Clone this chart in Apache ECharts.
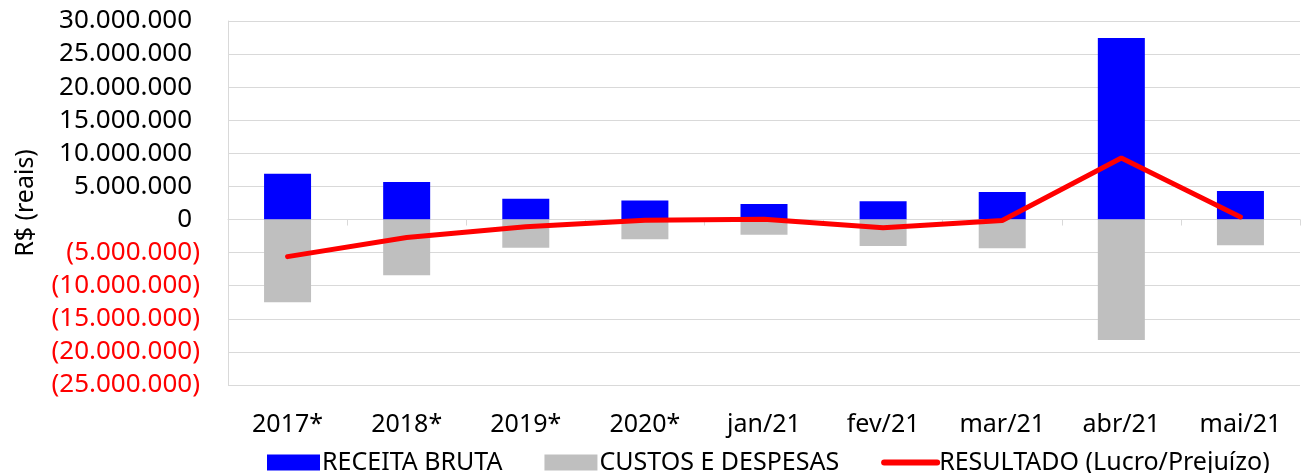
<!DOCTYPE html>
<html lang="pt-BR">
<head>
    <meta charset="UTF-8">
    <title>Receita x Custos</title>
    <style>
        html, body { margin: 0; padding: 0; background: #fff; }
        #chart { width: 1307px; height: 473px; }
    </style>
</head>
<body>
<div id="chart"></div>
<script src="https://cdn.jsdelivr.net/npm/echarts@6/dist/echarts.min.js"></script>
<script>
    // dados
    var categorias = ['2017*', '2018*', '2019*', '2020*', 'jan/21', 'fev/21', 'mar/21', 'abr/21', 'mai/21'];
    var receitaBruta = [6930000, 5680000, 3160000, 2860000, 2360000, 2760000, 4170000, 27450000, 4320000];
    var custosDespesas = [-12500000, -8430000, -4270000, -2970000, -2300000, -4000000, -4320000, -18200000, -3870000];
    var resultado = [-5600000, -2700000, -1100000, -100000, 30000, -1250000, -150000, 9300000, 400000];

    var fonte = '"Noto Sans", "Open Sans", sans-serif';

    function milhar(v) {
        return String(Math.round(v)).replace(/\B(?=(\d{3})+(?!\d))/g, '.');
    }

    var chart = echarts.init(document.getElementById('chart'));

    var option = {
        animation: false,
        grid: {left: 228, right: 7, top: 21, bottom: 88},
        legend: {
            left: 262,
            top: 445,
            itemWidth: 53,
            itemHeight: 16,
            itemGap: 42,
            textStyle: {fontFamily: fonte, fontSize: 25, color: '#000', padding: [0, 0, 0, -3]},
            data: [
                {name: 'RECEITA BRUTA', icon: 'rect'},
                {name: 'CUSTOS E DESPESAS', icon: 'rect'},
                {name: 'RESULTADO (Lucro/Prejuízo)', itemStyle: {opacity: 0}, lineStyle: {width: 6}}
            ]
        },
        xAxis: [
            {
                type: 'category',
                data: categorias,
                axisLine: {onZero: true, lineStyle: {color: '#d9d9d9'}},
                axisTick: {show: true, length: 6, lineStyle: {color: '#d9d9d9'}},
                axisLabel: {show: false}
            },
            {
                type: 'category',
                data: categorias,
                position: 'bottom',
                axisLine: {show: false, onZero: false},
                axisTick: {show: false},
                axisLabel: {margin: 27, fontFamily: fonte, fontSize: 25, color: '#000'}
            }
        ],
        yAxis: {
            type: 'value',
            min: -25000000,
            max: 30000000,
            interval: 5000000,
            name: 'R$ (reais)',
            nameLocation: 'middle',
            nameRotate: 90,
            nameGap: 190,
            nameTextStyle: {fontFamily: fonte, fontSize: 25, color: '#000'},
            axisLine: {show: true, lineStyle: {color: '#d9d9d9'}},
            axisTick: {show: false},
            splitLine: {lineStyle: {color: '#d9d9d9', width: 1}},
            axisLabel: {
                margin: 28,
                fontFamily: fonte,
                fontSize: 26,
                formatter: function (v) {
                    if (v < 0) return '{neg|(' + milhar(-v) + ')}';
                    return '{pos|' + milhar(v) + '}';
                },
                rich: {
                    pos: {fontFamily: fonte, fontSize: 26, color: '#000', padding: [0, 8, 0, 0]},
                    neg: {fontFamily: fonte, fontSize: 26, color: '#ff0000'}
                }
            }
        },
        series: [
            {
                name: 'RECEITA BRUTA',
                type: 'bar',
                data: receitaBruta,
                barWidth: 47,
                barGap: '-100%',
                itemStyle: {color: '#0000ff'}
            },
            {
                name: 'CUSTOS E DESPESAS',
                type: 'bar',
                data: custosDespesas,
                barWidth: 47,
                barGap: '-100%',
                itemStyle: {color: '#bfbfbf'}
            },
            {
                name: 'RESULTADO (Lucro/Prejuízo)',
                type: 'line',
                data: resultado,
                symbol: 'none',
                z: 5,
                lineStyle: {color: '#ff0000', width: 5, cap: 'round'},
                itemStyle: {color: '#ff0000'}
            }
        ]
    };

    chart.setOption(option);
</script>
</body>
</html>
